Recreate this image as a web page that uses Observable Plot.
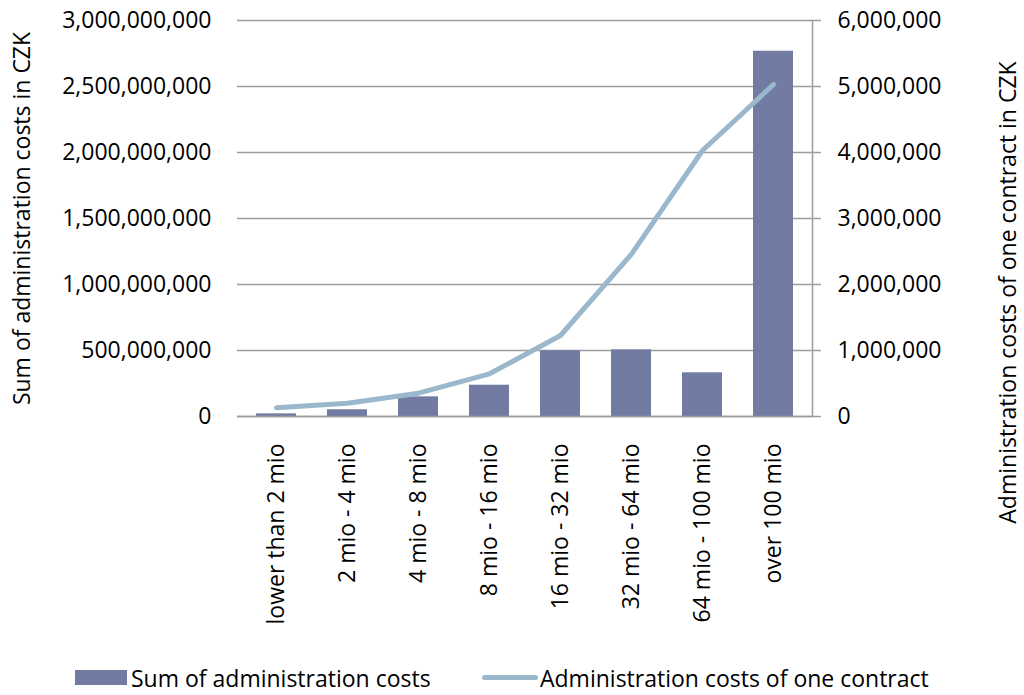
<!DOCTYPE html>
<html>
<head>
<meta charset="utf-8">
<script src="https://cdn.jsdelivr.net/npm/d3@7"></script>
<script src="https://cdn.jsdelivr.net/npm/@observablehq/plot@0.6"></script>
<style>
  html, body { margin: 0; padding: 0; background: #fff; }
  #wrap { position: relative; width: 1024px; height: 695px; font-family: "Open Sans", sans-serif; }
  #legend { position: absolute; left: 0; top: 660px; width: 1024px; height: 35px; font-size: 23px; color: #000; }
  .item { position: absolute; top: 0; height: 35px; display: flex; align-items: center; }
  .sw-bar { width: 52px; height: 15px; background: #727ca2; margin-right: 4px; }
  .sw-line { width: 56px; height: 5px; border-radius: 3px; background: #9bb7cc; margin-right: 2px; }
</style>
</head>
<body>
<div id="wrap">
  <div id="chart"></div>
  <div id="legend">
    <div class="item" style="left:75px"><div class="sw-bar"></div><span>Sum of administration costs</span></div>
    <div class="item" style="left:482px"><div class="sw-line"></div><span>Administration costs of one contract</span></div>
  </div>
</div>
<script>
const categories = ["lower than 2 mio", "2 mio - 4 mio", "4 mio - 8 mio", "8 mio - 16 mio",
  "16 mio - 32 mio", "32 mio - 64 mio", "64 mio - 100 mio", "over 100 mio"];
const sumCosts = [20e6, 51e6, 149e6, 237e6, 498e6, 505e6, 331e6, 2767e6];
const costPerContract = [132000, 200000, 353000, 647000, 1227000, 2460000, 4030000, 5030000];
const leftTicks = [0, 5e8, 1e9, 1.5e9, 2e9, 2.5e9, 3e9];
const rightTicks = [0, 1e6, 2e6, 3e6, 4e6, 5e6, 6e6];
const leftTitle = "Sum of administration costs in CZK";
const rightTitle = "Administration costs of one contract in CZK";

const ratio = 3e9 / 6e6; // right axis mapped onto left scale
const rows = categories.map((c, i) => ({cat: c, sum: sumCosts[i], per: costPerContract[i] * ratio}));
const fmt = d3.format(",");

const chart = Plot.plot({
  width: 1024,
  height: 655,
  marginTop: 20,
  marginBottom: 239,
  marginLeft: 237,
  marginRight: 212,
  style: {fontFamily: "'Open Sans', sans-serif", fontSize: "23px", color: "#000", background: "#fff"},
  x: {domain: categories, type: "band", padding: 0.43, paddingOuter: 0.215, label: null},
  y: {domain: [0, 3e9], label: null},
  marks: [
    Plot.gridY(leftTicks, {stroke: "#9d9d9d", strokeOpacity: 1, strokeWidth: 1.5}),
    Plot.barY(rows, {x: "cat", y: "sum", fill: "#727ca2"}),
    Plot.ruleY([0], {stroke: "#9d9d9d", strokeWidth: 1.5}),
    Plot.frame({anchor: "right", stroke: "#9d9d9d", strokeWidth: 1.5}),
    Plot.line(rows, {x: "cat", y: "per", stroke: "#9bb7cc", strokeWidth: 5, strokeLinecap: "round", strokeLinejoin: "round"}),
    Plot.axisY(leftTicks, {anchor: "left", tickSize: 0, tickPadding: 26, tickFormat: fmt, label: null}),
    Plot.axisY(rightTicks.map(d => d * ratio), {anchor: "right", tickSize: 8, tickPadding: 17, stroke: "#9d9d9d", strokeWidth: 1.5,
      tickFormat: d => fmt(Math.round(d / ratio)), label: null}),
    Plot.axisX({anchor: "bottom", tickSize: 0, tickPadding: 27, tickRotate: -90, label: null}),
    Plot.text([leftTitle], {frameAnchor: "left", textAnchor: "middle", text: d => d, rotate: -90, dx: -215, fill: "#000"}),
    Plot.text([rightTitle], {frameAnchor: "right", textAnchor: "middle", text: d => d, rotate: -90, dx: 196, dy: 74, fill: "#000"})
  ]
});
document.getElementById("chart").appendChild(chart);
</script>
</body>
</html>
